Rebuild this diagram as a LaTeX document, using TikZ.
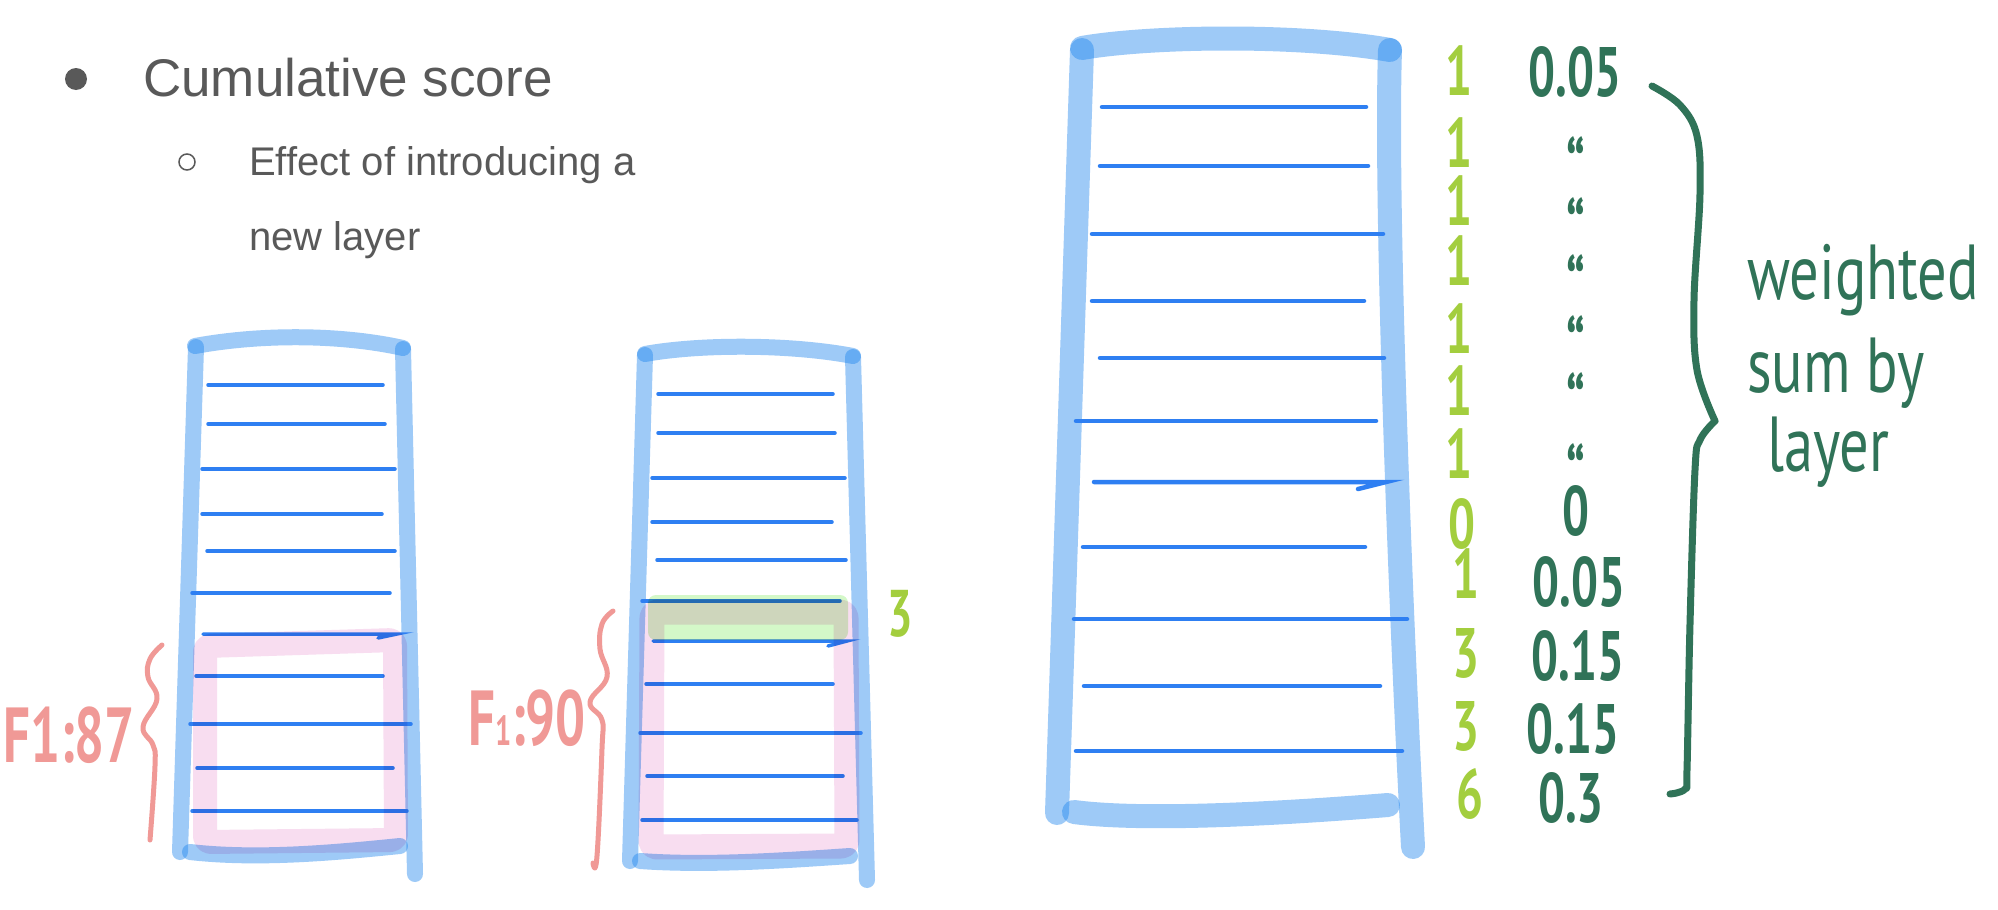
\documentclass[tikz,border=0pt]{standalone}
\usepackage{fontspec}
\setmainfont{Liberation Sans}
\newfontfamily\handfont{PT Sans}
\usepackage{tikz}
\usetikzlibrary{calc}

\definecolor{textgray}{RGB}{89,89,89}
\definecolor{railblue}{RGB}{25,131,238}
\definecolor{rungblue}{RGB}{46,127,242}
\definecolor{pinkfill}{RGB}{248,221,240}
\definecolor{pinkpen}{RGB}{240,153,150}
\definecolor{limegreen}{RGB}{163,206,62}
\definecolor{greenfill}{RGB}{212,248,200}
\definecolor{darkgreen}{RGB}{48,115,88}

\newcommand\squeeze[1]{\scalebox{.68}[1]{#1}}

\tikzset{
    rail/.style={line width=16pt, line cap=round, railblue, opacity=.42},
    bigrail/.style={rail, line width=24pt},
    rung/.style={line width=3.5pt, line cap=round, rungblue},
    bigrung/.style={rung, line width=4.5pt},
    marker/.style={line width=24pt, line join=round, rounded corners=6pt, pinkfill, blend mode=multiply},
    penline/.style={line width=5pt, line cap=round, line join=round},
    hand/.style={inner sep=0pt, anchor=base, font=\handfont\bfseries\fontsize{#1}{#1}\selectfont},
    hand/.default=70,
    dot/.style={circle, inner sep=0pt, minimum size=#1},
}

\begin{document}
\begin{tikzpicture}[x=1pt,y=-1pt]
    \path[use as bounding box, fill=white] (0,0) rectangle (1998,910);

    % bullet text
    \node[dot=22pt, fill=textgray] (bul1) at (76,79) {};
    \node[anchor=base west, inner sep=0pt, textgray, font=\fontsize{53}{60}\selectfont] (head) at (143,96) {Cumulative score};
    \node[dot=16pt, draw=textgray, line width=1.5pt] (bul2) at (187,162) {};
    \node[anchor=base west, inner sep=0pt, textgray, font=\fontsize{40}{48}\selectfont] (sub1) at (249,175) {Effect of introducing a};
    \node[anchor=base west, inner sep=0pt, textgray, font=\fontsize{40}{48}\selectfont] (sub2) at (249,250) {new layer};

    % first ladder
    \draw[rail] (195,346) .. controls (260,334) and (340,334) .. (403,348);
    \draw[rail] (196,347) -- (180,852);
    \draw[rail] (403,349) -- (415,874);
    \draw[rail] (190,852) .. controls (260,860) and (340,852) .. (400,846);
    \foreach \y/\xa/\xb in {385/208/383, 424/208/385, 469/202/395, 514/202/382, 551/207/395, 593/192/390, 676/196/383, 724/190/411, 768/197/393, 811/192/407} {
        \draw[rung] (\xa,\y) -- (\xb,\y);
    }
    \draw[rung] (203,634) -- (397,634) -- (378,638);

    % second ladder
    \draw[rail] (645,354) .. controls (700,344) and (790,344) .. (853,356);
    \draw[rail] (645,355) -- (630,861);
    \draw[rail] (853,357) -- (867,880);
    \draw[rail] (640,861) .. controls (710,866) and (790,860) .. (850,856);
    \foreach \y/\xa/\xb in {394/658/833, 433/658/835, 478/652/845, 522/652/832, 560/657/846, 601/642/840, 684/646/833, 733/640/861, 776/647/843, 820/642/857} {
        \draw[rung] (\xa,\y) -- (\xb,\y);
    }
    \draw[rung] (653,641) -- (847,641) -- (828,646);

    % third ladder
    \draw[bigrail] (1082,48) .. controls (1150,36) and (1300,34) .. (1390,50);
    \draw[bigrail] (1082,50) -- (1057,813);
    \draw[bigrail] (1390,50) .. controls (1385,200) and (1400,600) .. (1413,847);
    \draw[bigrail] (1074,812) .. controls (1150,822) and (1300,812) .. (1388,805);
    \foreach \y/\xa/\xb in {107/1102/1366, 166/1100/1368, 234/1092/1383, 301/1092/1364, 358/1100/1384, 421/1076/1376, 547/1083/1365, 619/1074/1407, 686/1084/1380, 751/1076/1402} {
        \draw[bigrung] (\xa,\y) -- (\xb,\y);
    }
    \draw[bigrung] (1094,482) -- (1386,482) -- (1358,489);

    % highlighted layers
    \draw[marker] (205,646) -- (395,640) -- (396,840) -- (205,842) -- cycle;
    \draw[marker, line width=25pt] (652,612) -- (846,612) -- (847,846) -- (651,847) -- cycle;
    \fill[greenfill, rounded corners=8pt, blend mode=multiply] (648,595) rectangle (848,640);
    \node[hand=66, limegreen] (gain) at (900,636) {\squeeze{3}};

    % braces and scores
    \draw[penline, pinkpen] plot[smooth, tension=.7] coordinates {(162,645) (150,659) (148,677) (157,699) (143,727) (153,745) (155,766) (150,840)};
    \draw[penline, pinkpen] plot[smooth, tension=.7] coordinates {(613,611) (602,624) (600,649) (607,677) (590,702) (602,720) (602,749) (597,856) (593,863)};
    \node[hand=78, pinkpen] (fold) at (69,762) {\squeeze{F1:87}};
    \node[hand=78, pinkpen] (fnew) at (527,745) {\squeeze{F{\fontsize{42}{42}\selectfont 1}:90}};

    % counts and weights
    \foreach \t/\x/\y [count=\i] in {1/1459/95, 1/1459/167, 1/1459/225, 1/1459/285, 1/1459/353, 1/1459/415, 1/1459/478, 0/1462/548, 1/1466/598, 3/1466/677, 3/1466/750, 6/1470/818} {
        \node[hand, limegreen] (cnt\i) at (\x,\y) {\squeeze{\t}};
    }
    \foreach \t/\x/\y [count=\i] in {0.05/1575/96, “/1576/192, “/1576/253, “/1576/310, “/1576/371, “/1576/428, “/1576/499, 0/1576/535, 0.05/1579/606, 0.15/1578/680, 0.15/1573/753, 0.3/1571/822} {
        \node[hand, darkgreen] (wt\i) at (\x,\y) {\squeeze{\t}};
    }

    \draw[penline, darkgreen, line width=7pt] plot[smooth, tension=.6] coordinates {(1652,86) (1680,105) (1697,136) (1700,194) (1694,300) (1697,370) (1715,421)};
    \draw[penline, darkgreen, line width=7pt] plot[smooth, tension=.6] coordinates {(1715,421) (1700,440) (1695,470) (1690,624) (1687,770) (1685,789) (1670,794)};
    \foreach \t/\x/\y [count=\i] in {weighted/1747/299, sum by/1747/392, layer/1767/471} {
        \node[inner sep=0pt, darkgreen, anchor=base west, font=\handfont\fontsize{78}{78}\selectfont] (wsum\i) at (\x,\y) {\scalebox{.75}[1]{\t}};
    }
\end{tikzpicture}
\end{document}
